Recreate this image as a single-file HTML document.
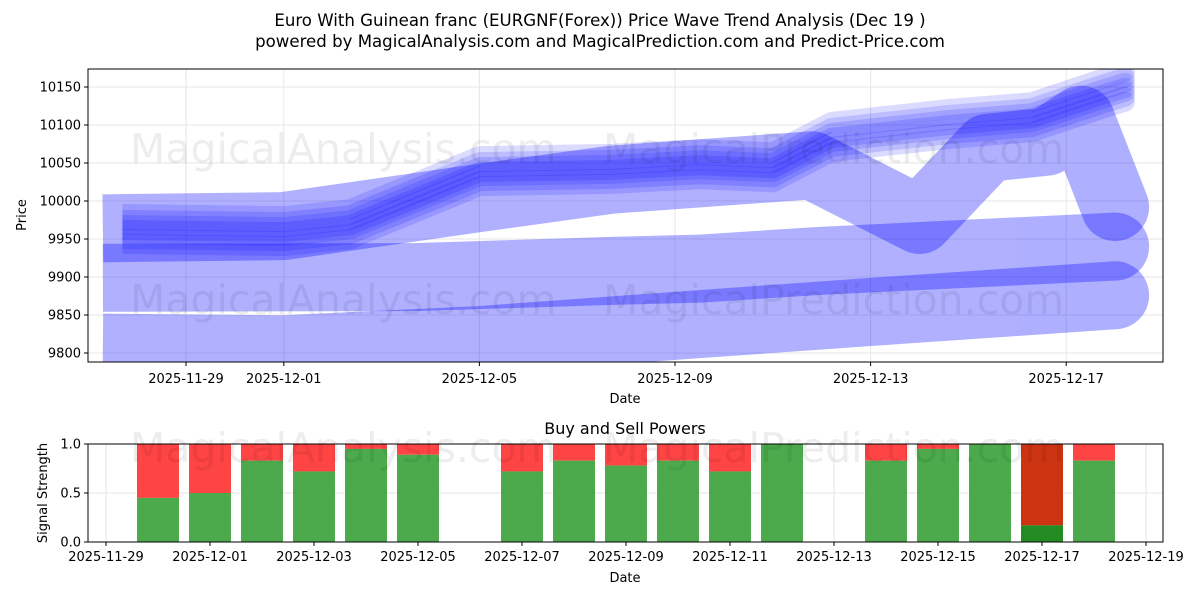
<!DOCTYPE html>
<html><head><meta charset="utf-8"><style>
body{margin:0;background:#fff;}
svg text{font-family:"DejaVu Sans","Liberation Sans",sans-serif;fill:#000;}
</style></head><body>
<svg id="chart" width="1200" height="600" viewBox="0 0 1200 600" xmlns="http://www.w3.org/2000/svg">
<rect width="1200" height="600" fill="#fff"/>
<text x="600" y="26" font-size="16.6" text-anchor="middle">Euro With Guinean franc (EURGNF(Forex)) Price Wave Trend Analysis (Dec 19 )</text>
<text x="600" y="47" font-size="16.6" text-anchor="middle">powered by MagicalAnalysis.com and MagicalPrediction.com and Predict-Price.com</text>
<g id="topPanel"></g>
<g id="botPanel"></g>
</svg>
<script>
// ---- price panel data (day offsets from 2025-11-29) ----
const priceTicks = [9800, 9850, 9900, 9950, 10000, 10050, 10100, 10150];
const dateTickDays = [0, 2, 6, 10, 14, 18];
const dateTickLabels = ["2025-11-29","2025-12-01","2025-12-05","2025-12-09","2025-12-13","2025-12-17"];
const lowerBandX = [-1.7, 2.0, 6.0, 10.5, 14.0, 19.0];
const lowerBandY = [9807, 9805, 9817, 9838, 9854, 9876];
const middleBandX = [-1.7, 4.75, 8.7, 10.5, 12.9, 19.0];
const middleBandY = [9899, 9900, 9908, 9911, 9921, 9940];
const waveBandX = [-1.7, 2.0, 6.0, 8.7, 12.8, 15.0, 16.4, 17.6, 18.3, 19.0];
const waveBandY = [9964, 9967, 10004, 10028, 10047, 9975, 10070, 10078, 10107, 9992];
const bundleX = [-1.3, 2.0, 3.35, 6.0, 8.7, 10.5, 12.0, 13.2, 15.6, 17.3, 18.7, 19.2];
const bundleY = [9962, 9959, 9968, 10038, 10041, 10047, 10043, 10083, 10100, 10109, 10139, 10149];
const bundleOffsets = [-16, -10, -5, 0, 4, 9, 14];
// ---- signal panel data ----
const sigDays = [1,2,3,4,5,6,8,9,10,11,12,13,15,16,17,18,19];
const buyPower = [0.45,0.5,0.83,0.72,0.95,0.89,0.72,0.83,0.78,0.83,0.72,1.0,0.83,0.95,1.0,0.17,0.83];
const sigTickDays = [0,2,4,6,8,10,12,14,16,18,20];
const sigTickLabels = ["2025-11-29","2025-12-01","2025-12-03","2025-12-05","2025-12-07","2025-12-09","2025-12-11","2025-12-13","2025-12-15","2025-12-17","2025-12-19"];
const sigYTicks = [0, 0.5, 1.0];

const NS = "http://www.w3.org/2000/svg";
function mk(tag, attrs, parent, txt){const e=document.createElementNS(NS,tag);for(const k in attrs)e.setAttribute(k,attrs[k]);if(txt!==undefined)e.textContent=String(txt);parent.appendChild(e);return e;}
const topG = document.getElementById('topPanel'), botG = document.getElementById('botPanel');
const TX0=88,TX1=1163,TY0=69,TY1=362;
const xT = d => 186 + d*48.9;
const yT = p => 201 - (p-10000)*0.76;
mk('defs',{},topG).innerHTML='<clipPath id="cp1"><rect x="88" y="69" width="1075" height="293"/></clipPath><clipPath id="cp2"><rect x="88" y="444" width="1075" height="98"/></clipPath>';
const tg = mk('g',{'clip-path':'url(#cp1)'},topG);
priceTicks.forEach(p=>{const l=mk('line',{x1:TX0,x2:TX1,y1:yT(p),y2:yT(p),stroke:'#e6e6e6'},tg);

});
dateTickDays.forEach(d=>{const l=mk('line',{x1:xT(d),x2:xT(d),y1:TY0,y2:TY1,stroke:'#e6e6e6'},tg);

});
function pts(xs,ys,off){return xs.map((d,i)=>xT(d)+','+(yT(ys[i])+(off||0))).join(' ');}
function band(xs,ys,w,op,name,off){
  const g=mk('g',{opacity:op},tg);
  
  
  mk('polyline',{points:pts(xs,ys,off),fill:'none',stroke:'#0000ff','stroke-width':w,'stroke-linecap':'butt','stroke-linejoin':'round'},g);
  const n=xs.length-1;
  mk('circle',{cx:xT(xs[n]),cy:yT(ys[n])+(off||0),r:w/2,fill:'#0000ff'},g);
}
band(lowerBandX,lowerBandY,68,0.31,'wave-band-lower');
band(middleBandX,middleBandY,68,0.31,'wave-band-middle');
band(waveBandX,waveBandY,68,0.31,'wave-band-upper');
bundleOffsets.forEach(o=>band(bundleX,bundleY,20,0.14,'wave-line',o));
[['MagicalAnalysis.com',130,163],['MagicalPrediction.com',603,163],['MagicalAnalysis.com',130,314],['MagicalPrediction.com',603,314]].forEach(w=>{const t=mk('text',{x:w[1],y:w[2],'font-size':41,fill:'#000','fill-opacity':0.07},topG,w[0]);

});
mk('rect',{x:TX0,y:TY0,width:TX1-TX0,height:TY1-TY0,fill:'none',stroke:'#000','stroke-width':1},topG);
priceTicks.forEach(p=>{mk('line',{x1:TX0-4,x2:TX0,y1:yT(p),y2:yT(p),stroke:'#000'},topG);
const t=mk('text',{x:TX0-7,y:yT(p)+4.5,'font-size':13,'text-anchor':'end'},topG,p);

});
dateTickDays.forEach((d,i)=>{mk('line',{x1:xT(d),x2:xT(d),y1:TY1,y2:TY1+4,stroke:'#000'},topG);
const t=mk('text',{x:xT(d),y:TY1+21,'font-size':13,'text-anchor':'middle'},topG,dateTickLabels[i]);

});
mk('text',{x:625,y:403,'font-size':13,'text-anchor':'middle'},topG,'Date');
mk('text',{x:26,y:215,'font-size':13,'text-anchor':'middle',transform:'rotate(-90 26 215)'},topG,'Price');
const BX0=88,BX1=1163,BY0=444,BY1=542;
const xB = d => 106 + d*52;
const yB = v => 542 - v*98;
const bg = mk('g',{'clip-path':'url(#cp2)'},botG);
sigYTicks.forEach(v=>mk('line',{x1:BX0,x2:BX1,y1:yB(v),y2:yB(v),stroke:'#e6e6e6'},bg));
sigTickDays.forEach(d=>mk('line',{x1:xB(d),x2:xB(d),y1:BY0,y2:BY1,stroke:'#e6e6e6'},bg));
sigDays.forEach((d,i)=>{const v=buyPower[i];const dark=v<0.3;
const r=mk('rect',{x:xB(d)-21,y:yB(1),width:42,height:yB(v)-yB(1),fill:dark?'#cc3311':'#ff4444'},bg);


const g=mk('rect',{x:xB(d)-21,y:yB(v),width:42,height:yB(0)-yB(v),fill:dark?'#228b22':'#4caa4c'},bg);

});
[['MagicalAnalysis.com',130,462],['MagicalPrediction.com',603,462]].forEach(w=>{const t=mk('text',{x:w[1],y:w[2],'font-size':41,fill:'#000','fill-opacity':0.07},botG,w[0]);

});
mk('rect',{x:BX0,y:BY0,width:BX1-BX0,height:BY1-BY0,fill:'none',stroke:'#000'},botG);
sigYTicks.forEach(v=>{mk('line',{x1:BX0-4,x2:BX0,y1:yB(v),y2:yB(v),stroke:'#000'},botG);
const t=mk('text',{x:BX0-7,y:yB(v)+4.5,'font-size':13,'text-anchor':'end'},botG,v.toFixed(1));

});
sigTickDays.forEach((d,i)=>{mk('line',{x1:xB(d),x2:xB(d),y1:BY1,y2:BY1+4,stroke:'#000'},botG);
const t=mk('text',{x:xB(d),y:BY1+19,'font-size':13,'text-anchor':'middle'},botG,sigTickLabels[i]);

});
mk('text',{x:625,y:434,'font-size':16,'text-anchor':'middle'},botG,'Buy and Sell Powers');
mk('text',{x:625,y:582,'font-size':13,'text-anchor':'middle'},botG,'Date');
mk('text',{x:47,y:493,'font-size':13,'text-anchor':'middle',transform:'rotate(-90 47 493)'},botG,'Signal Strength');
</script>
</body></html>
